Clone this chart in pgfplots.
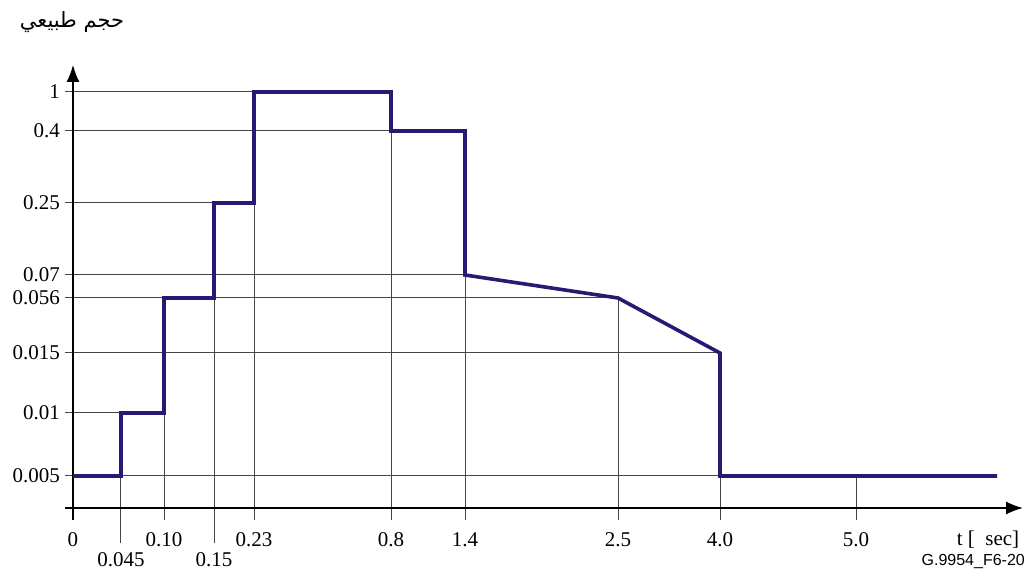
\documentclass[border=0pt]{standalone}
\usepackage{pgfplots}
\pgfplotsset{compat=1.18}
\usepackage{fontspec}
\setmainfont{Liberation Serif}
\newfontfamily\arabicfont[Script=Arabic]{DejaVu Sans}
\newfontfamily\sansfont{Liberation Sans}
\TeXXeTstate=1
\usetikzlibrary{arrows.meta}
\definecolor{curve}{RGB}{40,25,115}
\definecolor{gridc}{RGB}{70,70,70}
\begin{document}
\begin{tikzpicture}
\begin{axis}[
  x=1pt, y=1pt, anchor=origin, at={(0pt,0pt)},
  xmin=-8, xmax=950, ymin=-12, ymax=443,
  axis line style={draw=none},
  major tick length=0pt,
  clip=false,
  xtick={0,91,181,318,392,545,647,783},
  xticklabels={0,0.10,0.23,0.8,1.4,2.5,4.0,5.0},
  extra x ticks={48,141},
  extra x tick labels={0.045,0.15},
  extra x tick style={xticklabel style={yshift=-20pt}},
  ytick={32,95,155,210,233,305,377,416},
  yticklabels={0.005,0.01,0.015,0.056,0.07,0.25,0.4,1},
  xticklabel style={anchor=center, inner sep=0pt, yshift=-20pt},
  yticklabel style={anchor=east, inner sep=0pt, xshift=-5pt},
  tick label style={font=\fontsize{21}{25}\selectfont},
  /pgf/number format/assume math mode=true,
]
% horizontal grid lines
\addplot[gridc, line width=1pt, forget plot] coordinates {(-8,32) (924,32)};
\addplot[gridc, line width=1pt, forget plot] coordinates {(-8,95) (91,95)};
\addplot[gridc, line width=1pt, forget plot] coordinates {(-8,155) (647,155)};
\addplot[gridc, line width=1pt, forget plot] coordinates {(-8,210) (545,210)};
\addplot[gridc, line width=1pt, forget plot] coordinates {(-8,233) (392,233)};
\addplot[gridc, line width=1pt, forget plot] coordinates {(-8,305) (181,305)};
\addplot[gridc, line width=1pt, forget plot] coordinates {(-8,377) (392,377)};
\addplot[gridc, line width=1pt, forget plot] coordinates {(-8,416) (318,416)};
% vertical grid lines
\addplot[gridc, line width=1pt, forget plot] coordinates {(48,-35) (48,95)};
\addplot[gridc, line width=1pt, forget plot] coordinates {(91,-12) (91,210)};
\addplot[gridc, line width=1pt, forget plot] coordinates {(141,-35) (141,305)};
\addplot[gridc, line width=1pt, forget plot] coordinates {(181,-12) (181,416)};
\addplot[gridc, line width=1pt, forget plot] coordinates {(318,-12) (318,416)};
\addplot[gridc, line width=1pt, forget plot] coordinates {(392,-12) (392,377)};
\addplot[gridc, line width=1pt, forget plot] coordinates {(545,-12) (545,210)};
\addplot[gridc, line width=1pt, forget plot] coordinates {(647,-12) (647,155)};
\addplot[gridc, line width=1pt, forget plot] coordinates {(783,-12) (783,32)};
% axes
\draw[black, line width=1.6pt, -{Latex[length=17pt,width=13pt]}] (axis cs:-8,0) -- (axis cs:950,0);
\draw[black, line width=1.4pt, -{Latex[length=17pt,width=13pt]}] (axis cs:0,-12) -- (axis cs:0,443);
% curve
\addplot[curve, line width=3.6pt, line join=miter, line cap=butt] coordinates {
  (0,32) (48,32) (48,95) (91,95) (91,210) (141,210) (141,305) (181,305)
  (181,416) (318,416) (318,377) (392,377) (392,233) (545,210) (647,155)
  (647,32) (924,32)};
% texts
\node[font=\fontsize{21}{25}\selectfont] at (axis cs:915,-32) {t [\ \ sec]};
\node[anchor=east, inner sep=0pt, font=\sansfont\fontsize{16}{18}\selectfont] at (axis cs:952,-54) {G.9954\_F6-20};
\node[font=\arabicfont\fontsize{21}{25}\selectfont] at (axis cs:-1,486) {\beginR حجم طبيعي\endR};
\end{axis}
\pgfresetboundingbox
\path (-73pt,-72pt) rectangle (957pt,508pt);
\end{tikzpicture}
\end{document}
